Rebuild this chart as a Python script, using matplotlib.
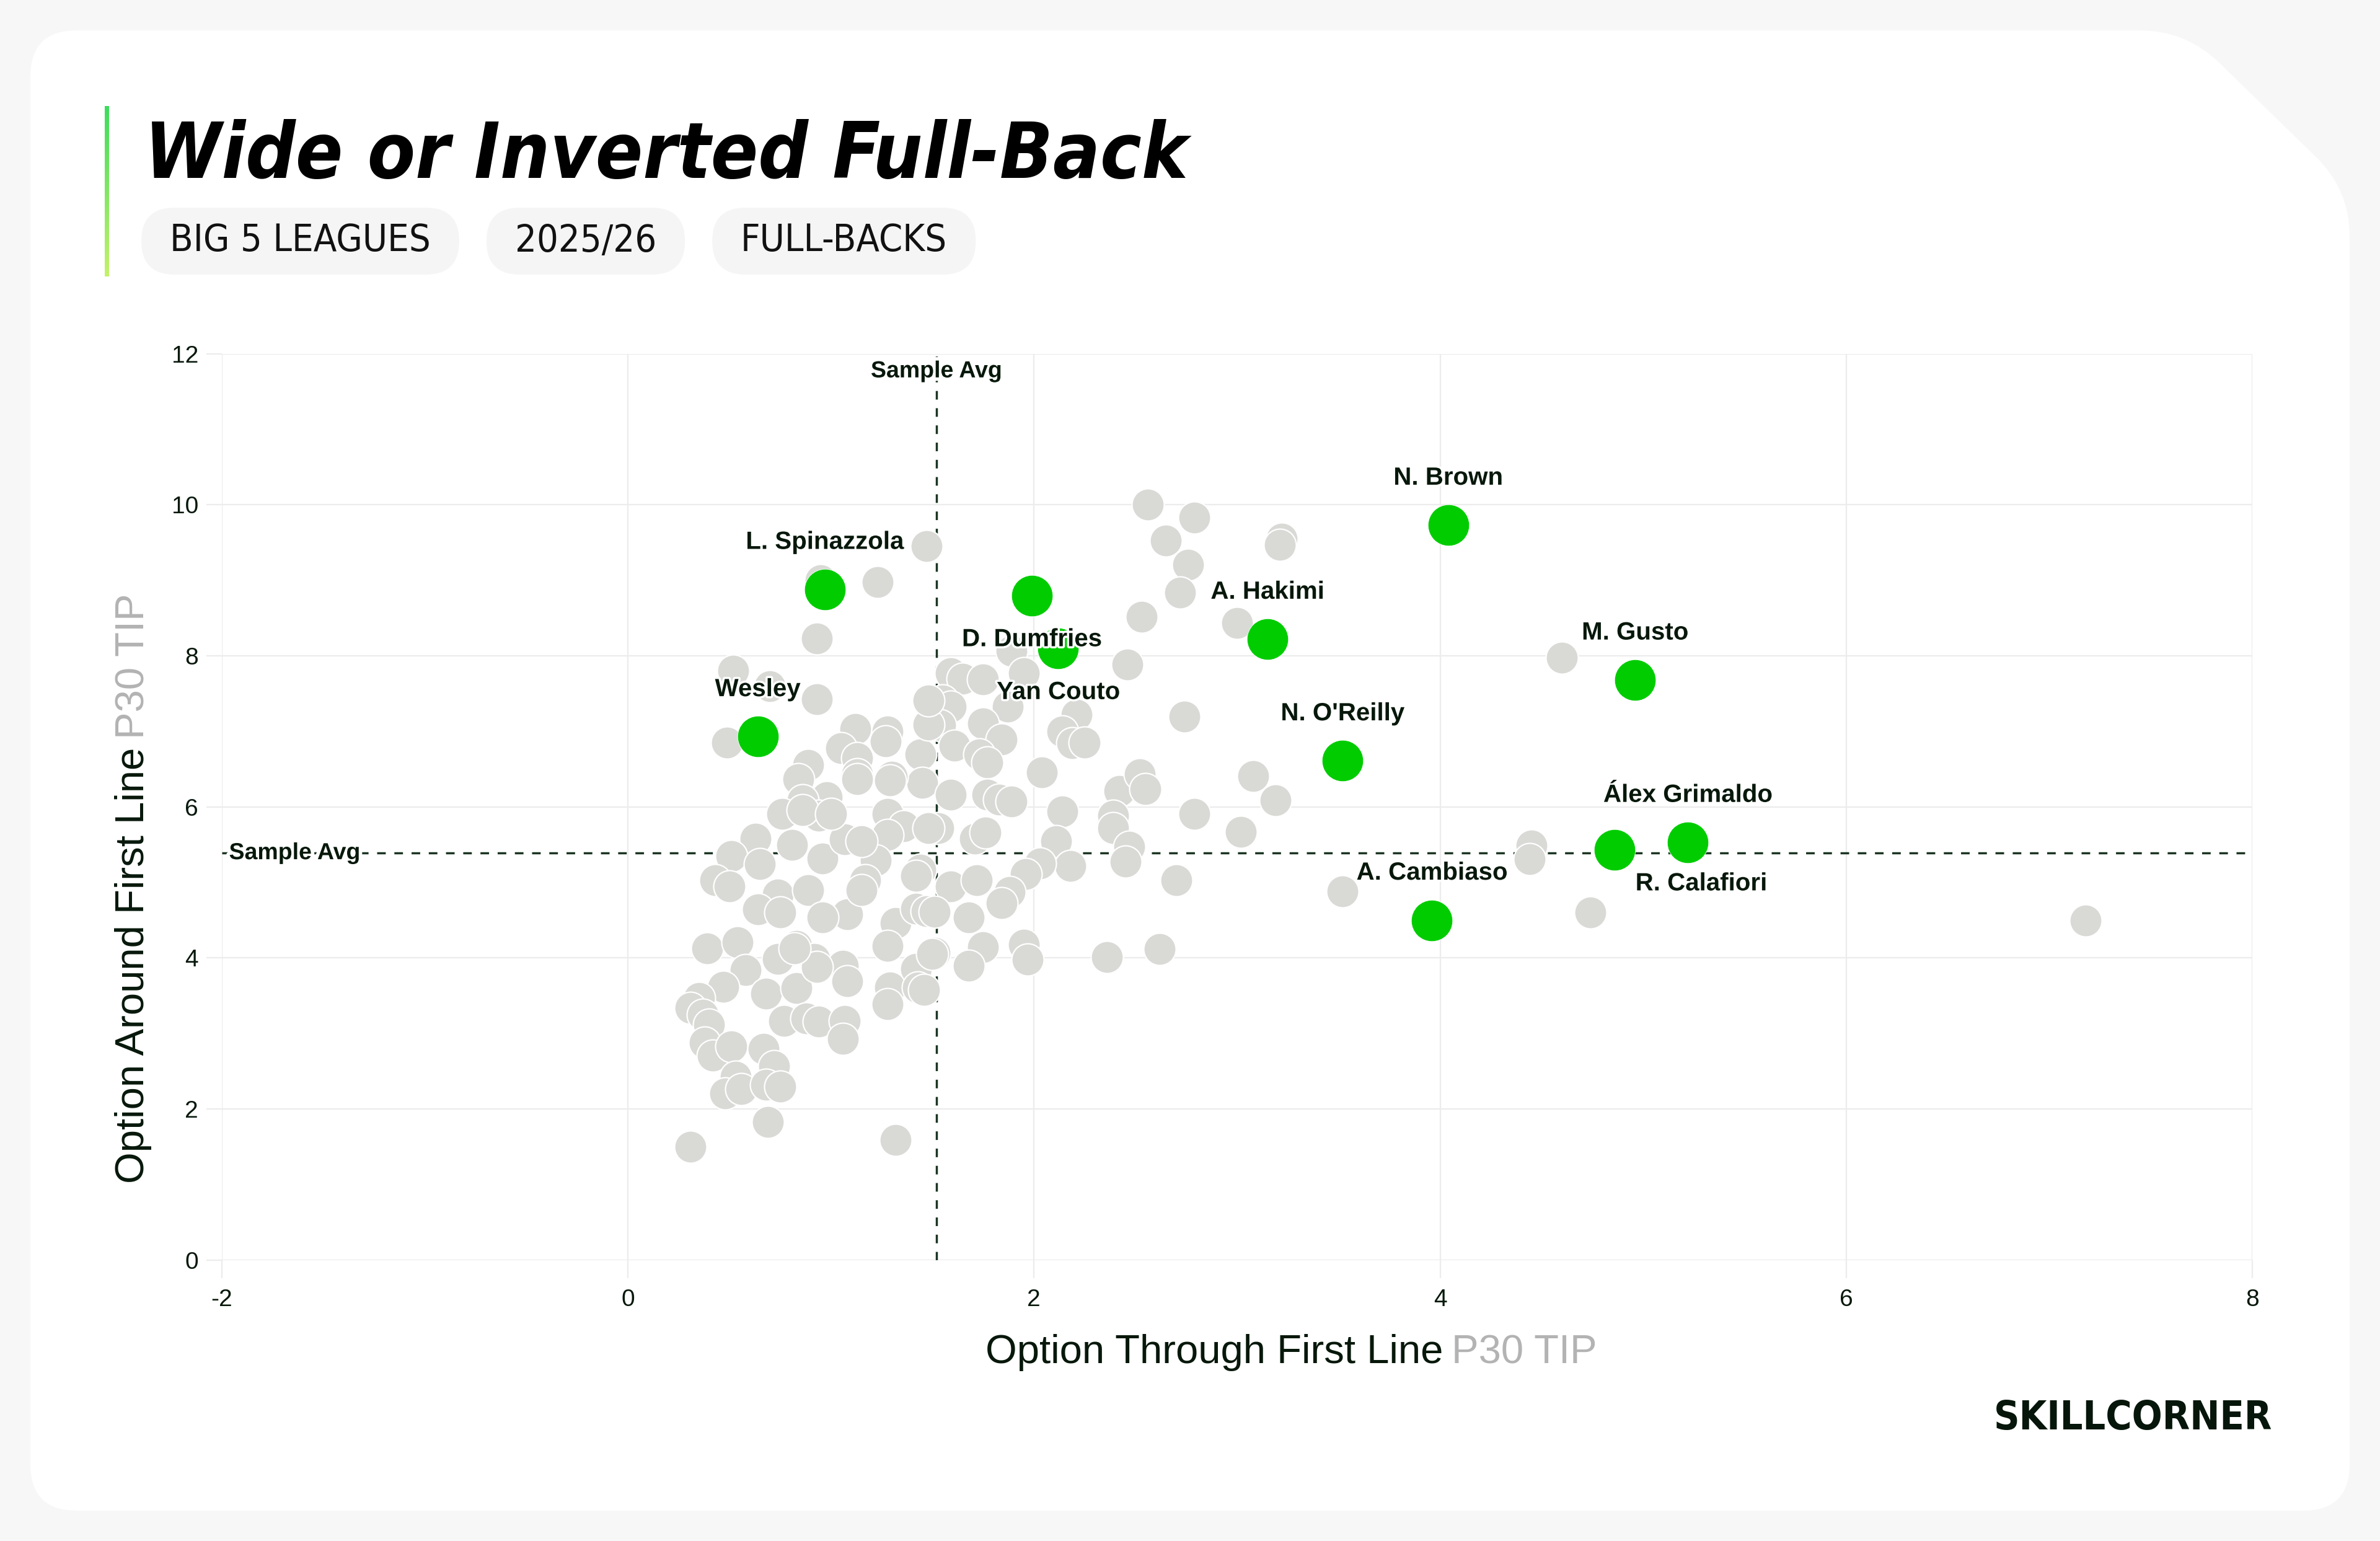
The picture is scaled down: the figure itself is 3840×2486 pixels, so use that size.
import os
import re
import matplotlib
matplotlib.use("Agg")
import matplotlib.pyplot as plt
import matplotlib.patheffects as pe
import numpy as np
from matplotlib import font_manager as fm
from matplotlib.font_manager import FontProperties
from matplotlib.path import Path
from matplotlib.patches import PathPatch, FancyBboxPatch
from matplotlib.colors import LinearSegmentedColormap

plt.rcParams['axes.unicode_minus'] = False

# --- data ---
gray_x = [0.52, 0.70, 0.93, 0.93, 0.95, 1.23, 1.47, 0.49,
          2.56, 2.79, 2.65, 2.76, 2.72, 2.53, 2.46, 3.22, 3.21, 3.00, 3.08, 3.19,
          3.02, 3.52, 4.60, 4.45, 4.44, 4.74, 7.18,
          1.89, 1.95, 1.59, 1.65, 1.75, 1.55, 1.59, 1.54, 1.87, 1.75, 1.84, 1.61,
          1.73, 1.77, 2.21, 2.14, 2.19, 2.25, 2.74, 1.44, 1.45, 1.59, 1.77, 1.83,
          1.89, 2.04, 2.14, 2.42, 2.52, 2.55, 2.39, 2.39, 2.47, 2.45, 1.53, 1.71,
          1.76, 2.11, 2.18, 2.03, 1.96, 1.44, 1.59, 1.72, 1.88, 2.70, 2.79,
          1.12, 1.28, 1.27, 1.05, 1.13, 1.48, 1.48, 0.89, 0.84, 1.30, 0.98, 0.86,
          0.76, 0.94, 1.13, 1.28, 1.36, 1.28, 1.48, 0.63, 0.81, 0.51, 0.65, 0.96,
          1.07, 1.22, 1.17, 0.43, 0.50, 0.74, 0.89, 1.42,
          0.64, 0.75, 1.08, 0.96, 1.15, 1.32, 1.42, 1.47, 0.39, 0.54, 0.83, 0.74,
          0.92, 1.06, 1.08, 1.28, 1.29, 1.28, 1.42, 1.43, 0.58, 0.47, 0.68, 0.83,
          0.35, 0.31, 0.37, 0.40, 0.77, 0.88, 0.94, 1.07, 1.06, 0.38, 0.42, 0.51,
          0.67, 0.72, 0.53, 0.48, 0.56, 0.68, 0.75, 0.69, 0.31, 1.32,
          1.51, 1.68, 1.51, 1.75, 1.68, 1.95, 1.97, 2.36, 2.62,
          1.84, 1.46, 0.93, 0.86, 1.15, 1.00, 1.13, 1.29, 0.82, 1.50]
gray_y = [7.80, 7.60, 7.43, 8.23, 9.00, 8.98, 9.45, 6.85,
          10.00, 9.83, 9.53, 9.21, 8.84, 8.52, 7.89, 9.55, 9.47, 8.44, 6.41, 6.09,
          5.67, 4.88, 7.98, 5.49, 5.31, 4.60, 4.50,
          8.07, 7.77, 7.77, 7.70, 7.69, 7.41, 7.33, 7.08, 7.33, 7.11, 6.89, 6.81,
          6.70, 6.59, 7.22, 7.00, 6.84, 6.85, 7.20, 6.70, 6.32, 6.16, 6.16, 6.10,
          6.07, 6.46, 5.94, 6.21, 6.43, 6.24, 5.88, 5.72, 5.47, 5.28, 5.72, 5.58,
          5.66, 5.55, 5.22, 5.25, 5.11, 5.17, 4.95, 5.03, 4.87, 5.03, 5.91,
          7.03, 7.00, 6.87, 6.78, 6.65, 7.09, 7.41, 6.56, 6.37, 6.40, 6.13, 6.09,
          5.91, 5.88, 6.43, 5.91, 5.74, 5.63, 5.72, 5.58, 5.50, 5.35, 5.24, 5.32,
          5.57, 5.29, 5.03, 5.03, 4.95, 4.84, 4.90, 5.09,
          4.64, 4.60, 4.58, 4.54, 4.90, 4.46, 4.65, 4.62, 4.13, 4.21, 4.16, 3.99,
          3.99, 3.90, 3.69, 4.16, 3.61, 3.39, 3.86, 3.61, 3.84, 3.62, 3.53, 3.60,
          3.47, 3.34, 3.25, 3.12, 3.17, 3.20, 3.16, 3.17, 2.93, 2.88, 2.71, 2.83,
          2.80, 2.57, 2.43, 2.21, 2.26, 2.32, 2.30, 1.83, 1.50, 1.59,
          4.61, 4.54, 4.07, 4.14, 3.90, 4.18, 3.98, 4.01, 4.12,
          4.73, 3.58, 3.88, 5.96, 5.55, 5.91, 6.37, 6.35, 4.13, 4.05]

names = ["N. Brown", "L. Spinazzola", "D. Dumfries", "Yan Couto", "A. Hakimi",
         "M. Gusto", "N. O'Reilly", "Wesley", "Álex Grimaldo", "R. Calafiori",
         "A. Cambiaso"]
hl_x = [4.04, 0.97, 1.99, 2.12, 3.15, 4.96, 3.52, 0.64, 5.22, 4.86, 3.96]
hl_y = [9.73, 8.88, 8.80, 8.10, 8.22, 7.68, 6.61, 6.93, 5.53, 5.43, 4.50]

avg_x = 1.52
avg_y = 5.39

tags = ["BIG 5 LEAGUES", "2025/26", "FULL-BACKS"]
title = "Wide or Inverted Full-Back"
xlab, ylab, unit = "Option Through First Line", "Option Around First Line", "P30 TIP"

# label placement (offset points, ha)
label_pos = {"D. Dumfries": (0, -51, 'center'), "Yan Couto": (0, -51, 'center'),
             "R. Calafiori": (24, -39, 'left')}

DARK = '#07180b'
SANS = ['Liberation Sans', 'DejaVu Sans']


def find_font(pattern, weight='normal', style='normal'):
    # look for an installed condensed / narrow face, else plain DejaVu
    for f in fm.fontManager.ttflist:
        if re.search(pattern, os.path.basename(f.fname), re.I):
            return FontProperties(fname=f.fname)
    return FontProperties(family='DejaVu Sans', weight=weight, style=style)


title_fp = find_font(r'(Condensed|Narrow|Cond)[-_]?(Bold|ExtraBold)(Italic|Oblique)\.(ttf|otf)$',
                     'bold', 'italic')
tag_fp = find_font(r'(Condensed|Narrow|Cond)[-_]?(Regular|Light)?\.(ttf|otf)$')
logo_fp = find_font(r'(Condensed|Narrow|Cond)[-_]?(Black|ExtraBold|Bold)\.(ttf|otf)$', 'bold')

W, H = 38.4, 24.86
fig = plt.figure(figsize=(W, H), dpi=100, facecolor='#f7f7f7')
r = fig.canvas.get_renderer()


def fit_text(t, size, target_px, lo=0.55, hi=1.2):
    t.set_fontsize(size)
    w = t.get_window_extent(r).width
    t.set_fontsize(size * min(max(target_px / w, lo), hi))


def rounded_poly(pts, rad):
    verts, codes = [], []
    n = len(pts)
    for i in range(n):
        p0, p1, p2 = np.array(pts[i - 1]), np.array(pts[i]), np.array(pts[(i + 1) % n])
        d1 = (p0 - p1) / np.linalg.norm(p0 - p1)
        d2 = (p2 - p1) / np.linalg.norm(p2 - p1)
        verts += [p1 + d1 * rad, p1, p1 + d2 * rad]
        codes += [Path.LINETO, Path.CURVE3, Path.CURVE3]
    codes[0] = Path.MOVETO
    verts.append(verts[0])
    codes.append(Path.CLOSEPOLY)
    return Path(verts, codes)


# white card with cut top-right corner
card = PathPatch(rounded_poly([(0.49, 0.49), (37.91, 0.49), (37.91, 21.8),
                               (35.27, 24.37), (0.49, 24.37)], 0.75),
                 transform=fig.dpi_scale_trans, facecolor='white', edgecolor='none',
                 zorder=-10)
fig.add_artist(card)

# green accent bar
bar_ax = fig.add_axes([169 / 3840, (2486 - 446) / 2486, 7 / 3840, 275 / 2486])
cmap = LinearSegmentedColormap.from_list('bar', ['#3ddc5c', '#c4f26a'])
bar_ax.imshow(np.linspace(0, 1, 200).reshape(-1, 1), aspect='auto', cmap=cmap)
bar_ax.axis('off')

# title
tt = fig.text(0.0606, 0.8847, title, fontproperties=title_fp, color='black',
              va='baseline')
fit_text(tt, 108, 1685)

# tag pills
x_px = 228
yc_px = 2486 - 389
for tag in tags:
    t = fig.text((x_px + 46) / 3840, yc_px / 2486, tag, fontproperties=tag_fp,
                 color='#111111', va='center', ha='left')
    t.set_fontsize(52)
    if tag == tags[0]:
        fit_text(t, 52, 421)
        tag_size = t.get_fontsize()
    t.set_fontsize(tag_size)
    w = t.get_window_extent(r).width
    pill = FancyBboxPatch((x_px / 100, (yc_px - 54) / 100), (w + 92) / 100, 1.08,
                          boxstyle="round,pad=0,rounding_size=0.54",
                          transform=fig.dpi_scale_trans, facecolor='#f5f5f5',
                          edgecolor='none', zorder=-5)
    fig.add_artist(pill)
    x_px += w + 92 + 44

# main axes
ax = fig.add_axes([0.0931, 0.1823, 0.8533, 0.5881])
ax.patch.set_alpha(0)
ax.set_xlim(-2, 8)
ax.set_ylim(0, 12)
ax.set_xticks([-2, 0, 2, 4, 6, 8])
ax.set_yticks([0, 2, 4, 6, 8, 10, 12])
ax.grid(True, color='#ececec', linewidth=1.6, zorder=0)
ax.set_axisbelow(True)
for s in ax.spines.values():
    s.set_visible(False)
ax.tick_params(axis='x', length=21, width=1.6, color='#ececec', pad=12,
               labelsize=28, labelcolor=DARK)
ax.tick_params(axis='y', length=18, width=1.6, color='#ececec', pad=9,
               labelsize=28, labelcolor=DARK)
for lab in ax.get_xticklabels() + ax.get_yticklabels():
    lab.set_family(SANS)

# average lines
ax.axvline(avg_x, color='#1b3522', linewidth=2.5, dashes=(4, 4), zorder=2)
ax.axhline(avg_y, color='#1b3522', linewidth=2.5, dashes=(4, 4), zorder=2)
halo = [pe.withStroke(linewidth=8, foreground='white')]
ax.text(avg_x, 11.77, "Sample Avg", ha='center', va='center', fontsize=27,
        fontweight='bold', family=SANS, color=DARK, path_effects=halo, zorder=7)
ax.text(-1.64, avg_y, "Sample Avg", ha='center', va='center', fontsize=27,
        fontweight='bold', family=SANS, color=DARK, path_effects=halo, zorder=7)

# points
ax.scatter(gray_x, gray_y, s=1400, c='#d9dad6', edgecolors='white',
           linewidths=1.6, zorder=3)
ax.scatter(hl_x, hl_y, s=2300, c='#00cc00', edgecolors='white',
           linewidths=0.6, zorder=4)

halo2 = [pe.withStroke(linewidth=5, foreground='white')]
for nm, x, y in zip(names, hl_x, hl_y):
    dx, dy, ha = label_pos.get(nm, (0, 55, 'center'))
    ax.annotate(nm, (x, y), xytext=(dx, dy), textcoords='offset points',
                ha=ha, va='center', fontsize=29, fontweight='bold', family=SANS,
                color=DARK, path_effects=halo2, zorder=6)

# axis titles, two-tone
xa = fig.text(0, 0.1222, xlab, fontsize=47, family=SANS, color=DARK, va='center')
xb = fig.text(0, 0.1222, unit, fontsize=47, family=SANS, color='#b3b3b3', va='center')
wa = xa.get_window_extent(r).width / 3840
wb = xb.get_window_extent(r).width / 3840
gap = 14 / 3840
start = 0.5425 - (wa + gap + wb) / 2
xa.set_x(start)
xb.set_x(start + wa + gap)

ya = fig.text(0.0561, 0, ylab, fontsize=47, family=SANS, color=DARK, rotation=90,
              ha='center', va='bottom')
yb = fig.text(0.0561, 0, unit, fontsize=47, family=SANS, color='#b3b3b3', rotation=90,
              ha='center', va='bottom')
ha_ = ya.get_window_extent(r).height / 2486
hb_ = yb.get_window_extent(r).height / 2486
gap = 14 / 2486
start = 0.4236 - (ha_ + gap + hb_) / 2
ya.set_y(start)
yb.set_y(start + ha_ + gap)

# logo
lg = fig.text(0.9547, 0.0798, "SKILLCORNER", ha='right', va='center',
              fontproperties=logo_fp, color='#06160a')
fit_text(lg, 58, 450)

fig.savefig("out.png", dpi=100, facecolor=fig.get_facecolor())
